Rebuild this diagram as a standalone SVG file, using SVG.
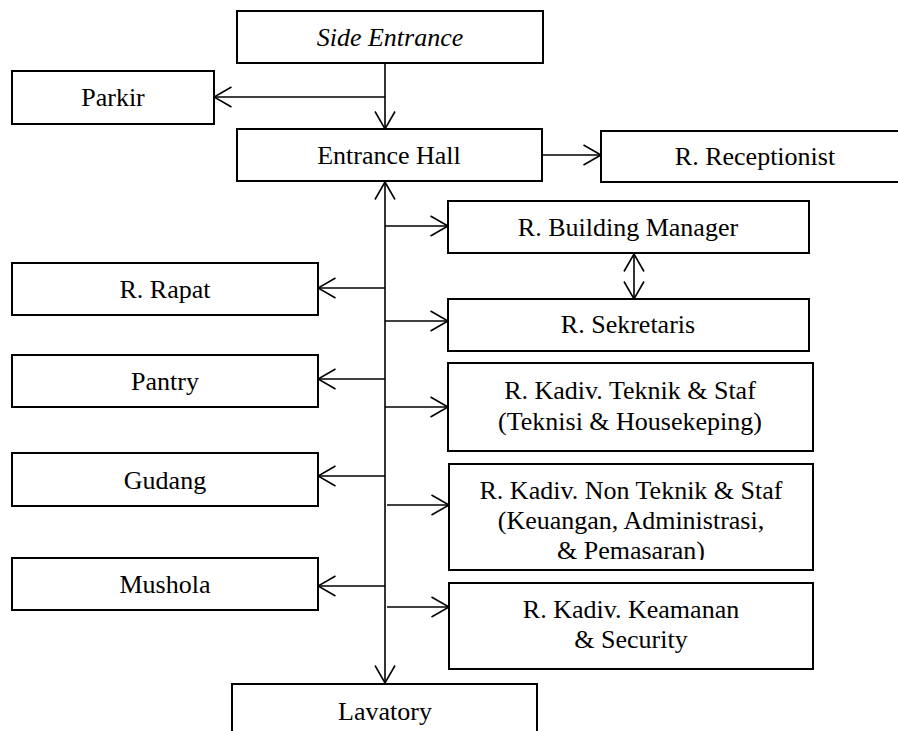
<svg xmlns="http://www.w3.org/2000/svg" width="898" height="731" viewBox="0 0 898 731">
<style>
.box{fill:#fff;stroke:#000;stroke-width:2}
text{font-family:'Liberation Serif',Tinos,'Times New Roman','DejaVu Serif',serif;font-size:26px;fill:#000;text-anchor:middle}
.it{font-style:italic}
.ln{fill:none;stroke:#000;stroke-width:1.6}
</style>
<defs>
<marker id="arr" viewBox="0 0 20 22" refX="18.5" refY="11" markerWidth="20" markerHeight="22" markerUnits="userSpaceOnUse" orient="auto-start-reverse">
<path d="M1,1 L18.5,11 L1,21" fill="none" stroke="#000" stroke-width="1.6"/>
</marker>
<clipPath id="clipNT"><rect x="449" y="464" width="365" height="96"/></clipPath>
</defs>
<rect width="898" height="731" fill="#fff"/>

<g id="connectors">
<line class="ln" x1="385" y1="63" x2="385" y2="129" marker-end="url(#arr)"/>
<line class="ln" x1="385" y1="97" x2="214" y2="97" marker-end="url(#arr)"/>
<line class="ln" x1="542" y1="155" x2="601" y2="155" marker-end="url(#arr)"/>
<line class="ln" x1="385" y1="182" x2="385" y2="683" marker-start="url(#arr)" marker-end="url(#arr)"/>
<line class="ln" x1="385" y1="226" x2="448" y2="226" marker-end="url(#arr)"/>
<line class="ln" x1="385" y1="321" x2="448" y2="321" marker-end="url(#arr)"/>
<line class="ln" x1="385" y1="407" x2="448" y2="407" marker-end="url(#arr)"/>
<line class="ln" x1="387" y1="505" x2="449" y2="505" marker-end="url(#arr)"/>
<line class="ln" x1="387" y1="607" x2="449" y2="607" marker-end="url(#arr)"/>
<line class="ln" x1="385" y1="288" x2="318" y2="288" marker-end="url(#arr)"/>
<line class="ln" x1="385" y1="379" x2="318" y2="379" marker-end="url(#arr)"/>
<line class="ln" x1="385" y1="476" x2="318" y2="476" marker-end="url(#arr)"/>
<line class="ln" x1="385" y1="586" x2="318" y2="586" marker-end="url(#arr)"/>
<line class="ln" x1="634" y1="254" x2="634" y2="299" marker-start="url(#arr)" marker-end="url(#arr)"/>
</g>

<g id="side-entrance"><rect class="box" x="237" y="11" width="306" height="52"/><text class="it" x="390" y="46" font-family="Liberation Serif, serif">Side Entrance</text></g>
<g id="parkir"><rect class="box" x="12" y="71" width="202" height="53"/><text x="113" y="106">Parkir</text></g>
<g id="entrance-hall"><rect class="box" x="237" y="129" width="305" height="52"/><text x="389" y="164">Entrance Hall</text></g>
<g id="receptionist"><rect class="box" x="601" y="131" width="310" height="51"/><text x="755" y="165">R. Receptionist</text></g>
<g id="building-manager"><rect class="box" x="448" y="201" width="361" height="52"/><text x="628" y="236">R. Building Manager</text></g>
<g id="sekretaris"><rect class="box" x="448" y="299" width="361" height="52"/><text x="628" y="333">R. Sekretaris</text></g>
<g id="rapat"><rect class="box" x="12" y="263" width="306" height="52"/><text x="165" y="298">R. Rapat</text></g>
<g id="pantry"><rect class="box" x="12" y="355" width="306" height="52"/><text x="165" y="390">Pantry</text></g>
<g id="gudang"><rect class="box" x="12" y="453" width="306" height="53"/><text x="165" y="489">Gudang</text></g>
<g id="mushola"><rect class="box" x="12" y="558" width="306" height="52"/><text x="165" y="593">Mushola</text></g>
<g id="kadiv-teknik"><rect class="box" x="448" y="363" width="365" height="88"/><text x="630" y="399">R. Kadiv. Teknik &amp; Staf</text><text x="630" y="430">(Teknisi &amp; Housekeping)</text></g>
<g id="kadiv-non-teknik"><rect class="box" x="449" y="464" width="364" height="106"/><g clip-path="url(#clipNT)"><text x="631" y="499">R. Kadiv. Non Teknik &amp; Staf</text><text x="631" y="529">(Keuangan, Administrasi,</text><text x="631" y="559">&amp; Pemasaran)</text></g></g>
<g id="kadiv-keamanan"><rect class="box" x="449" y="583" width="364" height="86"/><text x="631" y="618">R. Kadiv. Keamanan</text><text x="631" y="648">&amp; Security</text></g>
<g id="lavatory"><rect class="box" x="232" y="684" width="305" height="60"/><text x="385" y="720">Lavatory</text></g>
</svg>
